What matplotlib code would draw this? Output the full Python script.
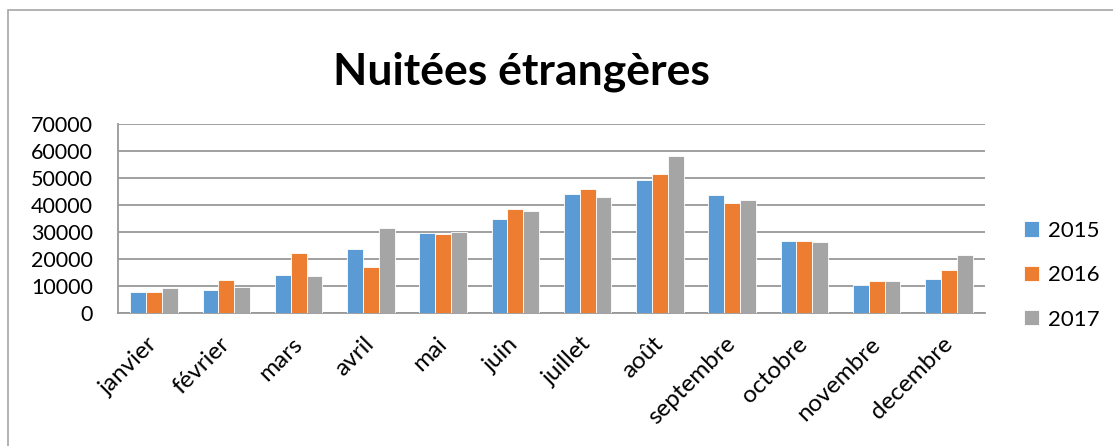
import matplotlib
matplotlib.use("Agg")
import matplotlib.pyplot as plt
from matplotlib.patches import Rectangle
import numpy as np

# data
mois = ['janvier', 'février', 'mars', 'avril', 'mai', 'juin', 'juillet',
        'août', 'septembre', 'octobre', 'novembre', 'decembre']
v2015 = [7600, 8500, 14200, 23800, 29700, 34800, 44100, 49200, 43600, 26500, 10500, 12700]
v2016 = [7900, 12100, 22100, 17100, 29300, 38600, 45900, 51600, 40900, 26700, 11900, 16000]
v2017 = [9100, 9500, 13700, 31300, 30000, 37600, 43100, 58200, 41800, 26200, 11700, 21300]
annees = ['2015', '2016', '2017']
couleurs = ['#5B9BD5', '#ED7D31', '#A5A5A5']

plt.rcParams['font.family'] = ['Lato', 'DejaVu Sans']

W, H = 1113, 446
fig = plt.figure(figsize=(W / 100, H / 100), dpi=100)
fig.patch.set_facecolor('white')

# outer chart frame
fig.patches.append(Rectangle((8 / W, -0.05), 1.2, (H - 10) / H + 0.05,
                             transform=fig.transFigure, fill=False,
                             edgecolor='#A6A6A6', linewidth=1.2))

ax = fig.add_axes([118 / W, 1 - 313 / H, (985 - 118) / W, (313 - 124) / H])

x = np.arange(len(mois))
w = 0.22
for i, (vals, lab) in enumerate(zip([v2015, v2016, v2017], annees)):
    ax.bar(x + (i - 1) * w, vals, w, color=couleurs[i], label=lab,
           edgecolor='#FFFFFF', linewidth=0.6, zorder=3)

ax.set_xlim(-0.5, len(mois) - 0.5)
ax.set_ylim(0, 70000)
ax.set_yticks(range(0, 70001, 10000))
ax.set_yticklabels([str(v) for v in range(0, 70001, 10000)], fontsize=15.5)
ax.set_xticks(x)
ax.set_xticklabels(mois, rotation=45, ha='right', va='center',
                   rotation_mode='anchor', fontsize=17.5)
ax.tick_params(axis='x', length=0, pad=20)
ax.tick_params(axis='y', length=0, pad=18)

ax.grid(axis='y', color='#999999', linewidth=1.3, zorder=0)
for s in ['top', 'right']:
    ax.spines[s].set_visible(False)
ax.spines['left'].set_color('#999999')
ax.spines['bottom'].set_color('#999999')
ax.spines['left'].set_linewidth(1.3)
ax.spines['bottom'].set_linewidth(1.3)

fig.text(521 / W, 1 - 72 / H, 'Nuitées étrangères', ha='center', va='center',
         fontsize=32, fontweight='bold')

ax.legend(loc='center left', bbox_to_anchor=(1.045, 0.20), frameon=False,
          fontsize=16, handlelength=0.68, handleheight=0.68, labelspacing=1.1,
          handletextpad=0.4, borderpad=0, borderaxespad=0)

fig.savefig('out.png', dpi=100)
